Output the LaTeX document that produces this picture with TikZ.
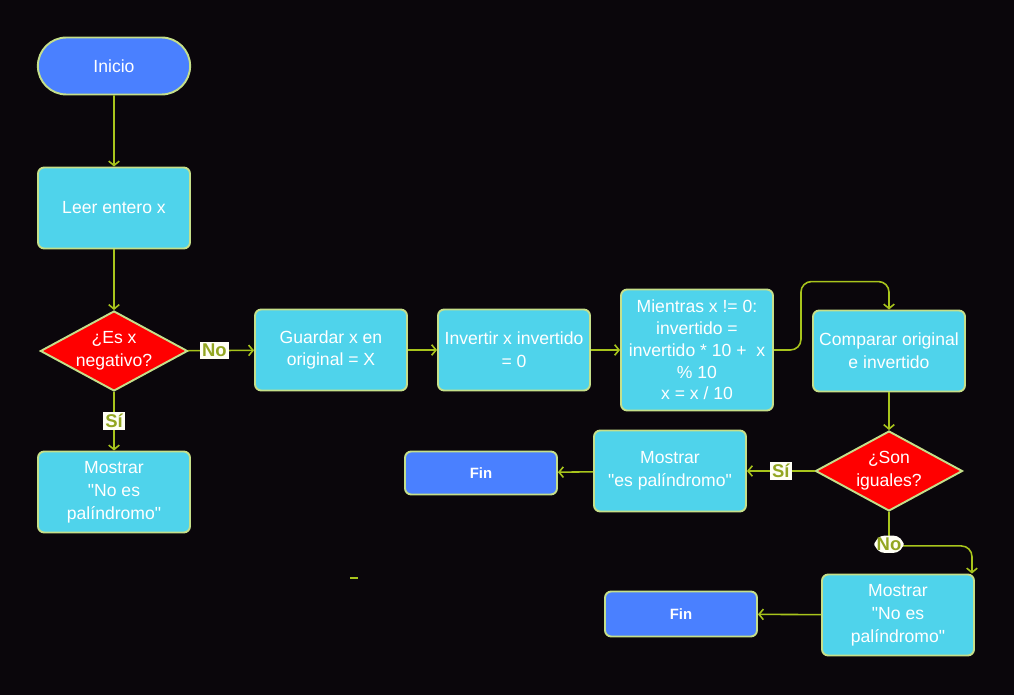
\documentclass[tikz,border=0pt]{standalone}
\usepackage{fontspec}
\setmainfont{Liberation Sans}
\usetikzlibrary{shapes.geometric,shapes.misc,arrows.meta}
\definecolor{bgdark}{HTML}{0A060B}
\definecolor{boxcyan}{HTML}{4FD3EB}
\definecolor{termblue}{HTML}{4A80FF}
\definecolor{askred}{HTML}{FF0000}
\definecolor{rimgreen}{HTML}{C5DF8A}
\definecolor{flowgreen}{HTML}{A8C41C}
\definecolor{lbltext}{HTML}{93A621}
\definecolor{lblback}{HTML}{FFFFF5}
\begin{document}
\begin{tikzpicture}[
    x=0.02cm, y=-0.02cm,
    box/.style={draw=rimgreen, line width=1.1pt, fill=boxcyan, rounded corners=3.5pt, text=white,
        minimum width=3.04cm, minimum height=1.62cm, inner sep=1pt, align=center,
        font=\fontsize{10}{13}\selectfont},
    start/.style={rounded rectangle, draw=rimgreen, line width=1.1pt, fill=termblue, text=white,
        minimum width=3.28cm, minimum height=1.14cm, font=\fontsize{10}{12}\selectfont},
    stop/.style={box, fill=termblue, minimum height=0.86cm, font=\bfseries\fontsize{8.5}{10}\selectfont},
    decision/.style={diamond, draw=rimgreen, line width=1.1pt, fill=askred, text=white, aspect=1.84,
        minimum width=2.94cm, minimum height=1.6cm,
        inner sep=0pt, align=center, font=\fontsize{10}{13}\selectfont},
    edge/.style={draw=flowgreen, line width=0.9pt, -{Straight Barb[length=2.5pt,width=6pt]}},
    lbl/.style={fill=lblback, text=lbltext, inner sep=1.3pt, font=\bfseries\fontsize{10.5}{11}\selectfont}
]
\fill[bgdark] (0,0) rectangle (1014,695);
\useasboundingbox (0,0) rectangle (1014,695);

% Column 1 - start and sign test
\node[start] (inicio) at (114, 66) {Inicio};
\node[box] (leer) at (114, 208) {Leer entero x};
\node[decision] (neg) at (114, 351) {¿Es x\\negativo?};
\node[box] (nopal1) at (114, 492) {Mostrar\\\textquotedbl No es\\palíndromo\textquotedbl};

% Row 2 - reversing the number
\node[box] (guardar) at (331, 350) {Guardar x en\\original = X};
\node[box] (invertir) at (514, 350) {Invertir x invertido\\= 0};
\node[box, minimum height=2.42cm, font=\fontsize{10}{12.4}\selectfont] (mientras) at (697, 350)
    {Mientras x != 0:\\invertido =\\invertido * 10 +\ \ x\\\% 10\\x = x / 10};
\node[box] (comparar) at (889, 351) {Comparar original\\e invertido};

% Row 3 - result
\node[decision] (iguales) at (889, 471) {¿Son\\iguales?};
\node[box] (espal) at (670, 471) {Mostrar\\\textquotedbl es palíndromo\textquotedbl};
\node[stop] (fin1) at (481, 473) {Fin};

% Row 4 - not a palindrome
\node[box] (nopal2) at (898, 615) {Mostrar\\\textquotedbl No es\\palíndromo\textquotedbl};
\node[stop, minimum height=0.9cm] (fin2) at (681, 614) {Fin};

% Connectors
\draw[edge] (inicio) -- (leer);
\draw[edge] (leer) -- (neg);
\draw[edge] (neg) -- node[lbl, pos=0.4] {No} (guardar);
\draw[edge] (neg) -- node[lbl] {Sí} (nopal1);
\draw[edge] (guardar) -- (invertir);
\draw[edge] (invertir) -- (mientras);
\draw[edge, rounded corners=6pt] (mientras.east) -- ++(27,0) |- ([yshift=0.56cm]comparar.north) -- (comparar.north);
\draw[edge] (comparar) -- (iguales);
\draw[edge] (iguales) -- node[lbl] {Sí} (espal);
\draw[edge] (espal) -- (fin1);
\draw[edge, rounded corners=6pt] (iguales.south) -- node[lbl, pos=0.95] {No} ++(0,34)
    -| ([xshift=-0.06cm]nopal2.north east);
\draw[edge] (nopal2) -- (fin2);

% stray stub
\coordinate (stubA) at (350, 578);
\coordinate (stubB) at (358, 578);
\draw[flowgreen, line width=1.2pt] (stubA) -- (stubB);
\end{tikzpicture}
\end{document}
